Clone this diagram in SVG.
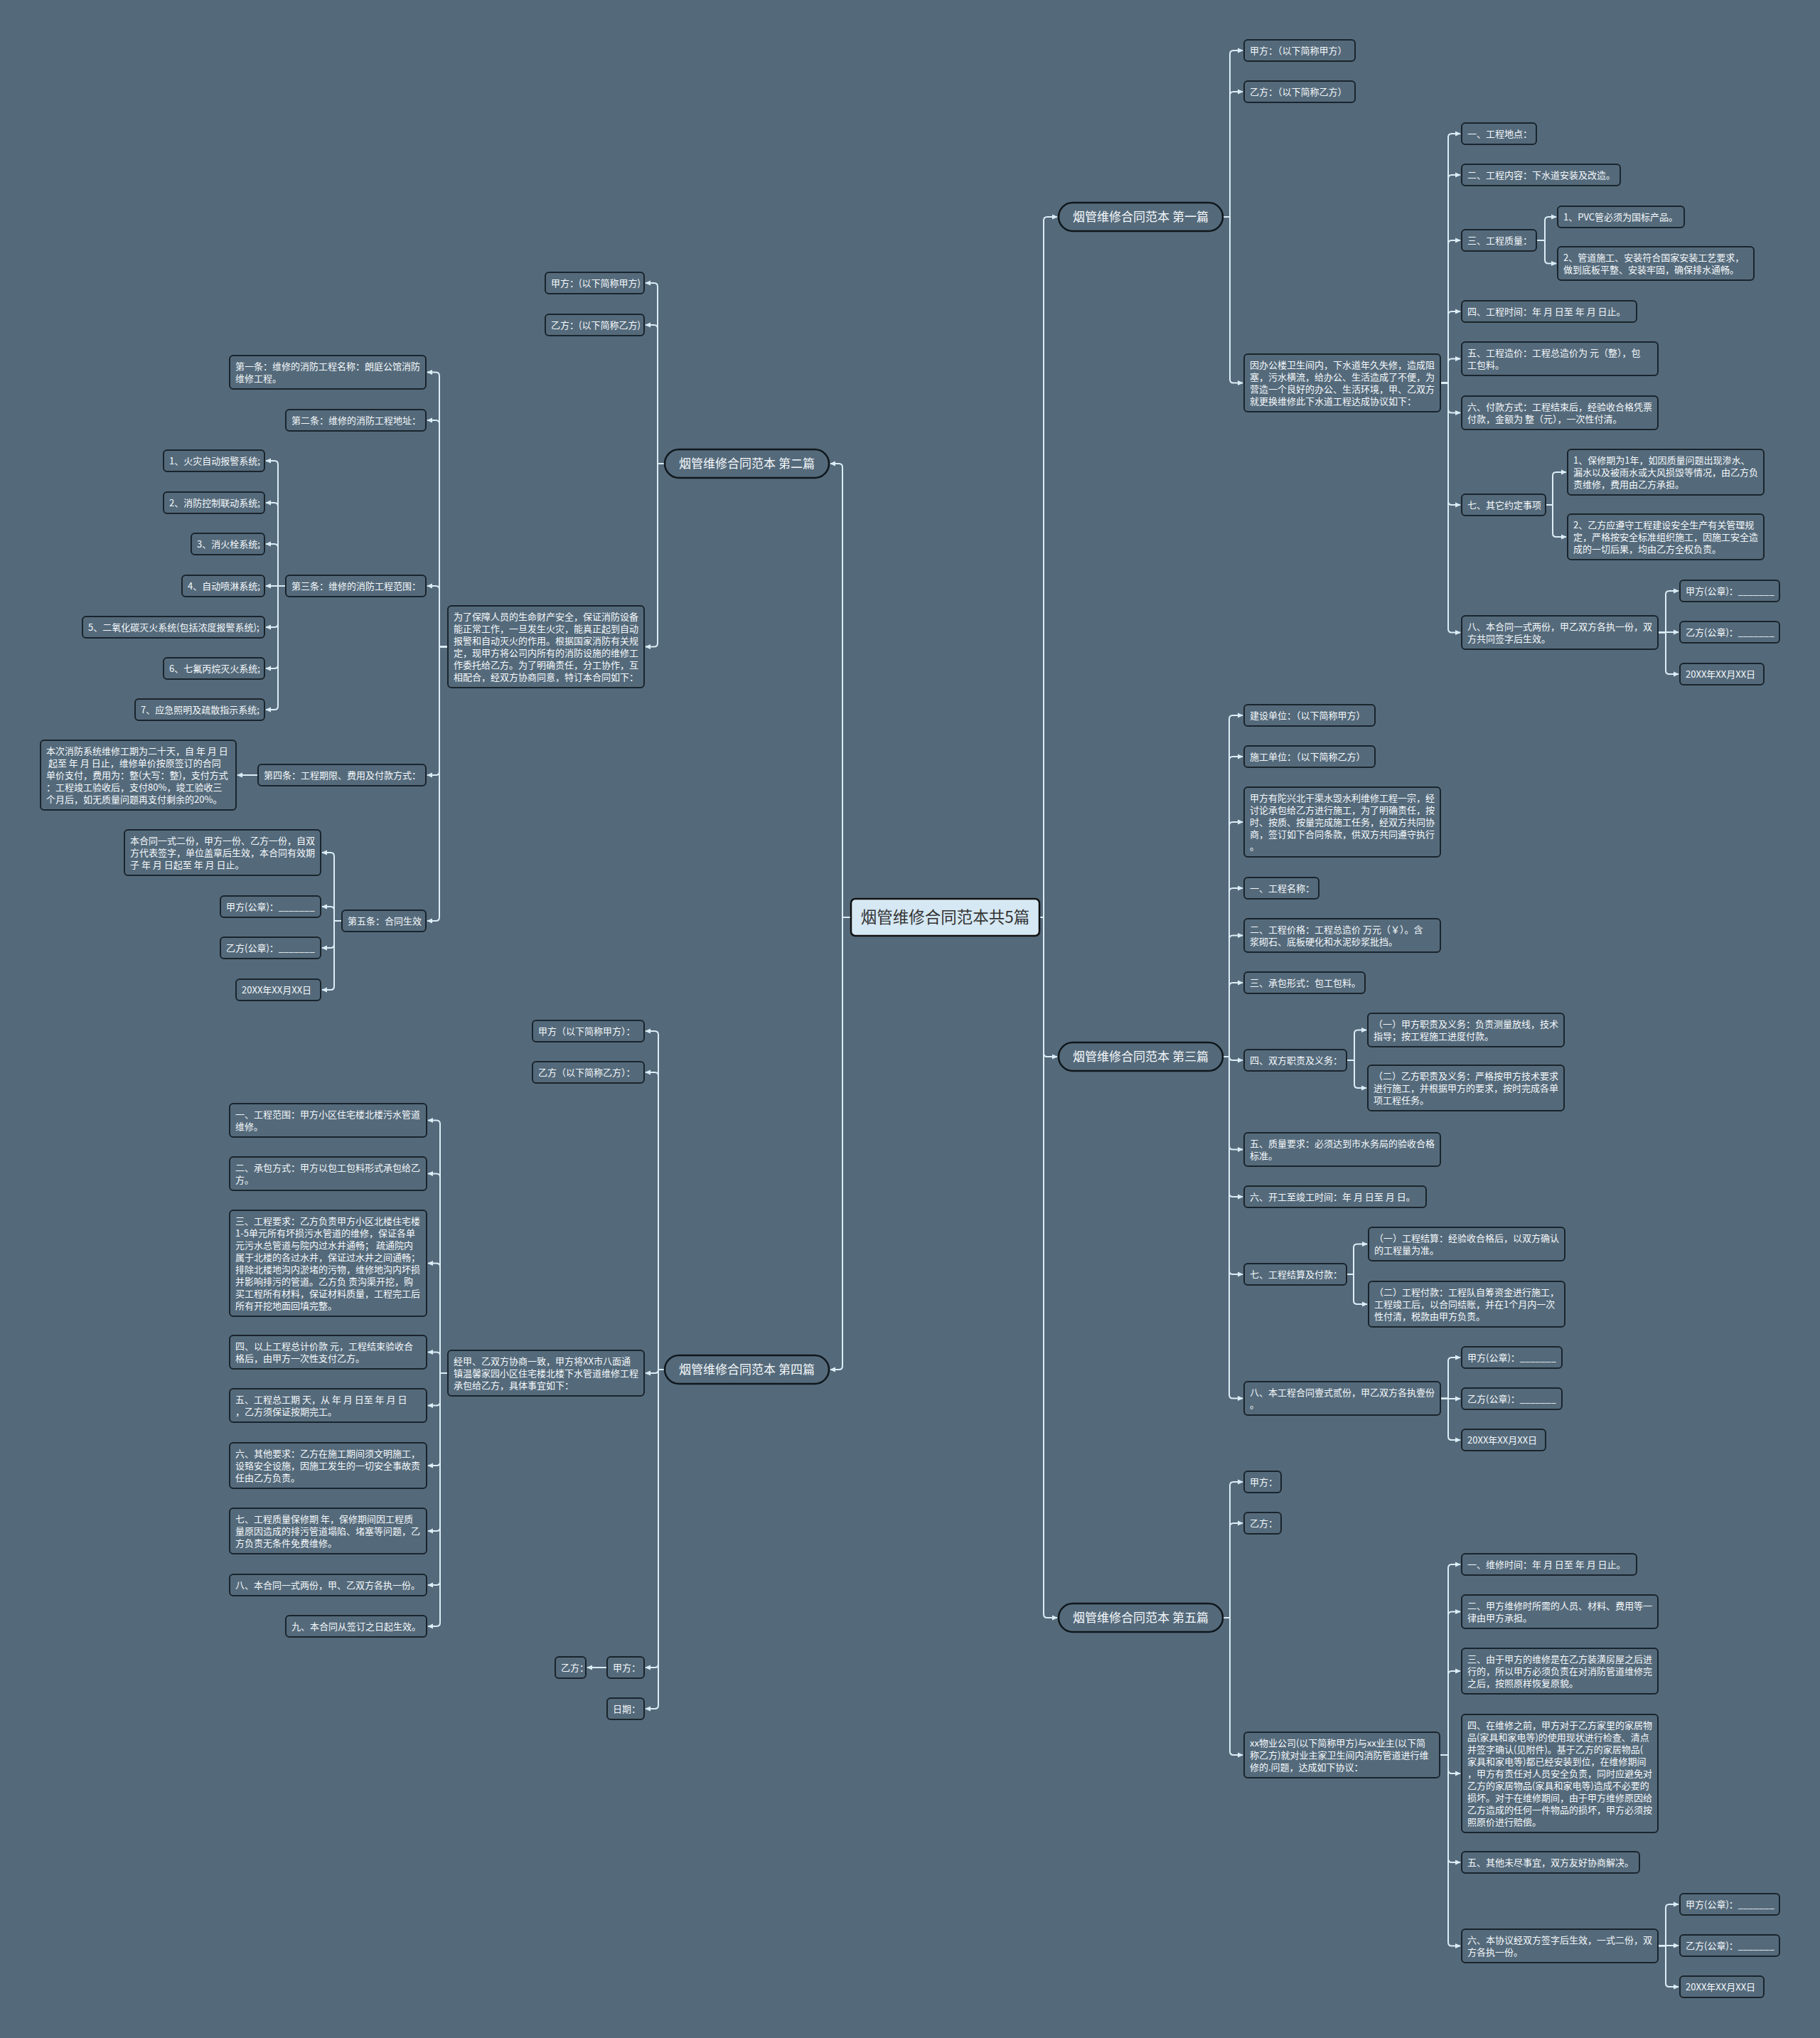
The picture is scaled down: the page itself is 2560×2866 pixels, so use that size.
<svg xmlns="http://www.w3.org/2000/svg" width="2560" height="2866" viewBox="0 0 2560 2866">
<style>
.bx{fill:#546a7b;stroke:#1a242c;stroke-width:2}
.pl{fill:#546a7b;stroke:#10171c;stroke-width:2.5}
.tx{font-family:"Noto Sans CJK SC","Noto Sans",sans-serif;font-size:13px;fill:#f5f8fa}
.bt{font-family:"Noto Sans CJK SC","Noto Sans",sans-serif;font-size:17px;fill:#f5f8fa;text-anchor:middle}
.ln{fill:none;stroke:#dcedf6;stroke-width:2;marker-end:url(#ar)}
</style>
<defs>
<marker id="ar" viewBox="0 0 10 10" refX="8" refY="5" markerWidth="9" markerHeight="9" markerUnits="userSpaceOnUse" orient="auto"><path d="M0,1 L9,5 L0,9 z" fill="#dcedf6"/></marker>
</defs>
<rect width="2560" height="2866" fill="#546a7b"/>
<g id="connectors">
<path class="ln" d="M1462 1290 H1468 V310 Q1468 305 1473 305 H1487"/>
<path class="ln" d="M1462 1290 H1468 V1481 Q1468 1486 1473 1486 H1487"/>
<path class="ln" d="M1462 1290 H1468 V2270 Q1468 2275 1473 2275 H1487"/>
<path class="ln" d="M1197 1290 H1185 V657 Q1185 652 1180 652 H1168"/>
<path class="ln" d="M1197 1290 H1185 V1921 Q1185 1926 1180 1926 H1168"/>
<path class="ln" d="M1720 305 H1730 V76 Q1730 71 1735 71 H1748"/>
<path class="ln" d="M1720 305 H1730 V134 Q1730 129 1735 129 H1748"/>
<path class="ln" d="M1720 305 H1730 V533.5 Q1730 538.5 1735 538.5 H1748"/>
<path class="ln" d="M2026 538.5 H2037 V193 Q2037 188 2042 188 H2054"/>
<path class="ln" d="M2026 538.5 H2037 V251 Q2037 246 2042 246 H2054"/>
<path class="ln" d="M2026 538.5 H2037 V343 Q2037 338 2042 338 H2054"/>
<path class="ln" d="M2026 538.5 H2037 V443 Q2037 438 2042 438 H2054"/>
<path class="ln" d="M2026 538.5 H2037 V509.5 Q2037 504.5 2042 504.5 H2054"/>
<path class="ln" d="M2026 538.5 H2037 V575.5 Q2037 580.5 2042 580.5 H2054"/>
<path class="ln" d="M2026 538.5 H2037 V705 Q2037 710 2042 710 H2054"/>
<path class="ln" d="M2026 538.5 H2037 V884.5 Q2037 889.5 2042 889.5 H2054"/>
<path class="ln" d="M2161 338 H2173 V310 Q2173 305 2178 305 H2189"/>
<path class="ln" d="M2161 338 H2173 V365.5 Q2173 370.5 2178 370.5 H2189"/>
<path class="ln" d="M2174 710 H2184 V669 Q2184 664 2189 664 H2203"/>
<path class="ln" d="M2174 710 H2184 V750 Q2184 755 2189 755 H2203"/>
<path class="ln" d="M2332 889.5 H2343 V836 Q2343 831 2348 831 H2361"/>
<path class="ln" d="M2332 889 H2361"/>
<path class="ln" d="M2332 889.5 H2343 V943 Q2343 948 2348 948 H2361"/>
<path class="ln" d="M1720 1486 H1729 V1011 Q1729 1006 1734 1006 H1748"/>
<path class="ln" d="M1720 1486 H1729 V1069 Q1729 1064 1734 1064 H1748"/>
<path class="ln" d="M1720 1486 H1729 V1161 Q1729 1156 1734 1156 H1748"/>
<path class="ln" d="M1720 1486 H1729 V1254 Q1729 1249 1734 1249 H1748"/>
<path class="ln" d="M1720 1486 H1729 V1320.5 Q1729 1315.5 1734 1315.5 H1748"/>
<path class="ln" d="M1720 1486 H1729 V1387 Q1729 1382 1734 1382 H1748"/>
<path class="ln" d="M1720 1486 H1729 V1486 Q1729 1491 1734 1491 H1748"/>
<path class="ln" d="M1720 1486 H1729 V1611.5 Q1729 1616.5 1734 1616.5 H1748"/>
<path class="ln" d="M1720 1486 H1729 V1678 Q1729 1683 1734 1683 H1748"/>
<path class="ln" d="M1720 1486 H1729 V1787 Q1729 1792 1734 1792 H1748"/>
<path class="ln" d="M1720 1486 H1729 V1961.5 Q1729 1966.5 1734 1966.5 H1748"/>
<path class="ln" d="M1894 1491 H1905 V1453.5 Q1905 1448.5 1910 1448.5 H1922"/>
<path class="ln" d="M1894 1491 H1905 V1525 Q1905 1530 1910 1530 H1922"/>
<path class="ln" d="M1894 1792 H1904 V1754.5 Q1904 1749.5 1909 1749.5 H1923"/>
<path class="ln" d="M1894 1792 H1904 V1829 Q1904 1834 1909 1834 H1923"/>
<path class="ln" d="M2026 1966.5 H2037 V1914 Q2037 1909 2042 1909 H2054"/>
<path class="ln" d="M2026 1967 H2054"/>
<path class="ln" d="M2026 1966.5 H2037 V2020 Q2037 2025 2042 2025 H2054"/>
<path class="ln" d="M1720 2275 H1730 V2089 Q1730 2084 1735 2084 H1748"/>
<path class="ln" d="M1720 2275 H1730 V2147 Q1730 2142 1735 2142 H1748"/>
<path class="ln" d="M1720 2275 H1730 V2463 Q1730 2468 1735 2468 H1748"/>
<path class="ln" d="M2025 2468 H2037 V2205 Q2037 2200 2042 2200 H2054"/>
<path class="ln" d="M2025 2468 H2037 V2271.5 Q2037 2266.5 2042 2266.5 H2054"/>
<path class="ln" d="M2025 2468 H2037 V2355 Q2037 2350 2042 2350 H2054"/>
<path class="ln" d="M2025 2468 H2037 V2489 Q2037 2494 2042 2494 H2054"/>
<path class="ln" d="M2025 2468 H2037 V2614 Q2037 2619 2042 2619 H2054"/>
<path class="ln" d="M2025 2468 H2037 V2731.5 Q2037 2736.5 2042 2736.5 H2054"/>
<path class="ln" d="M2332 2736.5 H2343 V2683 Q2343 2678 2348 2678 H2361"/>
<path class="ln" d="M2332 2736 H2361"/>
<path class="ln" d="M2332 2736.5 H2343 V2789 Q2343 2794 2348 2794 H2361"/>
<path class="ln" d="M935 652 H925 V403 Q925 398 920 398 H908"/>
<path class="ln" d="M935 652 H925 V462 Q925 457 920 457 H908"/>
<path class="ln" d="M935 652 H925 V904.5 Q925 909.5 920 909.5 H908"/>
<path class="ln" d="M630 909.5 H618 V528.5 Q618 523.5 613 523.5 H601"/>
<path class="ln" d="M630 909.5 H618 V596 Q618 591 613 591 H601"/>
<path class="ln" d="M630 909.5 H618 V829 Q618 824 613 824 H601"/>
<path class="ln" d="M630 909.5 H618 V1085 Q618 1090 613 1090 H601"/>
<path class="ln" d="M630 909.5 H618 V1290 Q618 1295 613 1295 H601"/>
<path class="ln" d="M402 824 H391 V653 Q391 648 386 648 H374"/>
<path class="ln" d="M402 824 H391 V712 Q391 707 386 707 H374"/>
<path class="ln" d="M402 824 H391 V770 Q391 765 386 765 H374"/>
<path class="ln" d="M402 824 H374"/>
<path class="ln" d="M402 824 H391 V877 Q391 882 386 882 H374"/>
<path class="ln" d="M402 824 H391 V935 Q391 940 386 940 H374"/>
<path class="ln" d="M402 824 H391 V993 Q391 998 386 998 H374"/>
<path class="ln" d="M363 1090 H334"/>
<path class="ln" d="M481 1295 H470 V1204 Q470 1199 465 1199 H453"/>
<path class="ln" d="M481 1295 H470 V1280 Q470 1275 465 1275 H453"/>
<path class="ln" d="M481 1295 H470 V1328 Q470 1333 465 1333 H453"/>
<path class="ln" d="M481 1295 H470 V1387 Q470 1392 465 1392 H453"/>
<path class="ln" d="M935 1926 H926 V1455 Q926 1450 921 1450 H908"/>
<path class="ln" d="M935 1926 H926 V1513 Q926 1508 921 1508 H908"/>
<path class="ln" d="M935 1926 H926 V1926 Q926 1931 921 1931 H908"/>
<path class="ln" d="M935 1926 H926 V2340 Q926 2345 921 2345 H908"/>
<path class="ln" d="M935 1926 H926 V2398 Q926 2403 921 2403 H908"/>
<path class="ln" d="M630 1931 H619 V1580.5 Q619 1575.5 614 1575.5 H602"/>
<path class="ln" d="M630 1931 H619 V1655.5 Q619 1650.5 614 1650.5 H602"/>
<path class="ln" d="M630 1931 H619 V1781.5 Q619 1776.5 614 1776.5 H602"/>
<path class="ln" d="M630 1931 H619 V1906.5 Q619 1901.5 614 1901.5 H602"/>
<path class="ln" d="M630 1931 H619 V1971.5 Q619 1976.5 614 1976.5 H602"/>
<path class="ln" d="M630 1931 H619 V2056 Q619 2061 614 2061 H602"/>
<path class="ln" d="M630 1931 H619 V2148 Q619 2153 614 2153 H602"/>
<path class="ln" d="M630 1931 H619 V2224 Q619 2229 614 2229 H602"/>
<path class="ln" d="M630 1931 H619 V2282 Q619 2287 614 2287 H602"/>
<path class="ln" d="M854 2345 H826"/>
</g>
<g id="center"><rect x="1197" y="1264" width="265" height="52" rx="6" fill="#d5e8f3" stroke="#111" stroke-width="2.5"/><text x="1329.5" y="1298" font-family="Noto Sans CJK SC, Noto Sans, sans-serif" font-size="22.5" fill="#333" text-anchor="middle">烟管维修合同范本共5篇</text></g>
<g id="r1"><rect class="pl" x="1489" y="285" width="231" height="40" rx="20"/><text class="bt" x="1604.5" y="311">烟管维修合同范本 第一篇</text></g>
<g id="r1a"><rect class="bx" x="1750" y="56" width="156" height="30" rx="5"/><text class="tx" x="1758" y="76">甲方：（以下简称甲方）</text></g>
<g id="r1b"><rect class="bx" x="1750" y="114" width="156" height="30" rx="5"/><text class="tx" x="1758" y="134">乙方：（以下简称乙方）</text></g>
<g id="r1c"><rect class="bx" x="1750" y="498" width="276" height="81" rx="5"/><text class="tx"><tspan x="1758" y="518">因办公楼卫生间内，下水道年久失修，造成阻</tspan><tspan x="1758" y="535">塞，污水横流，给办公、生活造成了不便，为</tspan><tspan x="1758" y="552">营造一个良好的办公、生活环境，甲、乙双方</tspan><tspan x="1758" y="569">就更换维修此下水道工程达成协议如下：</tspan></text></g>
<g id="r1c1"><rect class="bx" x="2056" y="173" width="105" height="30" rx="5"/><text class="tx" x="2064" y="193">一、工程地点：</text></g>
<g id="r1c2"><rect class="bx" x="2056" y="231" width="223" height="30" rx="5"/><text class="tx" x="2064" y="251">二、工程内容：下水道安装及改造。</text></g>
<g id="r1c3"><rect class="bx" x="2056" y="323" width="105" height="30" rx="5"/><text class="tx" x="2064" y="343">三、工程质量：</text></g>
<g id="r1c3a"><rect class="bx" x="2191" y="290" width="178" height="30" rx="5"/><text class="tx" x="2199" y="310">1、PVC管必须为国标产品。</text></g>
<g id="r1c3b"><rect class="bx" x="2191" y="347" width="276" height="47" rx="5"/><text class="tx"><tspan x="2199" y="367">2、管道施工、安装符合国家安装工艺要求，</tspan><tspan x="2199" y="384">做到底板平整、安装牢固，确保排水通畅。</tspan></text></g>
<g id="r1c4"><rect class="bx" x="2056" y="423" width="246" height="30" rx="5"/><text class="tx" x="2064" y="443">四、工程时间：年 月 日至 年 月 日止。</text></g>
<g id="r1c5"><rect class="bx" x="2056" y="481" width="276" height="47" rx="5"/><text class="tx"><tspan x="2064" y="501">五、工程造价：工程总造价为 元（整），包</tspan><tspan x="2064" y="518">工包料。</tspan></text></g>
<g id="r1c6"><rect class="bx" x="2056" y="557" width="276" height="47" rx="5"/><text class="tx"><tspan x="2064" y="577">六、付款方式：工程结束后，经验收合格凭票</tspan><tspan x="2064" y="594">付款，金额为 整（元），一次性付清。</tspan></text></g>
<g id="r1c7"><rect class="bx" x="2056" y="695" width="118" height="30" rx="5"/><text class="tx" x="2064" y="715">七、其它约定事项</text></g>
<g id="r1c7a"><rect class="bx" x="2205" y="632" width="276" height="64" rx="5"/><text class="tx"><tspan x="2213" y="652">1、保修期为1年，如因质量问题出现渗水、</tspan><tspan x="2213" y="669">漏水以及被雨水或大风损毁等情况，由乙方负</tspan><tspan x="2213" y="686">责维修，费用由乙方承担。</tspan></text></g>
<g id="r1c7b"><rect class="bx" x="2205" y="723" width="276" height="64" rx="5"/><text class="tx"><tspan x="2213" y="743">2、乙方应遵守工程建设安全生产有关管理规</tspan><tspan x="2213" y="760">定，严格按安全标准组织施工，因施工安全造</tspan><tspan x="2213" y="777">成的一切后果，均由乙方全权负责。</tspan></text></g>
<g id="r1c8"><rect class="bx" x="2056" y="866" width="276" height="47" rx="5"/><text class="tx"><tspan x="2064" y="886">八、本合同一式两份，甲乙双方各执一份，双</tspan><tspan x="2064" y="903">方共同签字后生效。</tspan></text></g>
<g id="r1c8a"><rect class="bx" x="2363" y="816" width="140" height="30" rx="5"/><text class="tx" x="2371" y="836">甲方(公章)：_______</text></g>
<g id="r1c8b"><rect class="bx" x="2363" y="874" width="140" height="30" rx="5"/><text class="tx" x="2371" y="894">乙方(公章)：_______</text></g>
<g id="r1c8c"><rect class="bx" x="2363" y="933" width="118" height="30" rx="5"/><text class="tx" x="2371" y="953">20XX年XX月XX日</text></g>
<g id="r3"><rect class="pl" x="1489" y="1466" width="231" height="40" rx="20"/><text class="bt" x="1604.5" y="1492">烟管维修合同范本 第三篇</text></g>
<g id="r3a"><rect class="bx" x="1750" y="991" width="184" height="30" rx="5"/><text class="tx" x="1758" y="1011">建设单位：（以下简称甲方）</text></g>
<g id="r3b"><rect class="bx" x="1750" y="1049" width="184" height="30" rx="5"/><text class="tx" x="1758" y="1069">施工单位：（以下简称乙方）</text></g>
<g id="r3c"><rect class="bx" x="1750" y="1107" width="276" height="98" rx="5"/><text class="tx"><tspan x="1758" y="1127">甲方有陀兴北干渠水毁水利维修工程一宗，经</tspan><tspan x="1758" y="1144">讨论承包给乙方进行施工，为了明确责任，按</tspan><tspan x="1758" y="1161">时、按质、按量完成施工任务，经双方共同协</tspan><tspan x="1758" y="1178">商，签订如下合同条款，供双方共同遵守执行</tspan><tspan x="1758" y="1195">。</tspan></text></g>
<g id="r3d"><rect class="bx" x="1750" y="1234" width="105" height="30" rx="5"/><text class="tx" x="1758" y="1254">一、工程名称：</text></g>
<g id="r3e"><rect class="bx" x="1750" y="1292" width="276" height="47" rx="5"/><text class="tx"><tspan x="1758" y="1312">二、工程价格：工程总造价 万元（￥）。含</tspan><tspan x="1758" y="1329">浆砌石、底板硬化和水泥砂浆批挡。</tspan></text></g>
<g id="r3f"><rect class="bx" x="1750" y="1367" width="170" height="30" rx="5"/><text class="tx" x="1758" y="1387">三、承包形式：包工包料。</text></g>
<g id="r3g"><rect class="bx" x="1750" y="1476" width="144" height="30" rx="5"/><text class="tx" x="1758" y="1496">四、双方职责及义务：</text></g>
<g id="r3g1"><rect class="bx" x="1924" y="1425" width="276" height="47" rx="5"/><text class="tx"><tspan x="1932" y="1445">（一）甲方职责及义务：负责测量放线，技术</tspan><tspan x="1932" y="1462">指导；按工程施工进度付款。</tspan></text></g>
<g id="r3g2"><rect class="bx" x="1924" y="1498" width="276" height="64" rx="5"/><text class="tx"><tspan x="1932" y="1518">（二）乙方职责及义务：严格按甲方技术要求</tspan><tspan x="1932" y="1535">进行施工，并根据甲方的要求，按时完成各单</tspan><tspan x="1932" y="1552">项工程任务。</tspan></text></g>
<g id="r3h"><rect class="bx" x="1750" y="1593" width="276" height="47" rx="5"/><text class="tx"><tspan x="1758" y="1613">五、质量要求：必须达到市水务局的验收合格</tspan><tspan x="1758" y="1630">标准。</tspan></text></g>
<g id="r3i"><rect class="bx" x="1750" y="1668" width="256" height="30" rx="5"/><text class="tx" x="1758" y="1688">六、开工至竣工时间：年 月 日至 月 日。</text></g>
<g id="r3j"><rect class="bx" x="1750" y="1777" width="144" height="30" rx="5"/><text class="tx" x="1758" y="1797">七、工程结算及付款：</text></g>
<g id="r3j1"><rect class="bx" x="1925" y="1726" width="276" height="47" rx="5"/><text class="tx"><tspan x="1933" y="1746">（一）工程结算：经验收合格后，以双方确认</tspan><tspan x="1933" y="1763">的工程量为准。</tspan></text></g>
<g id="r3j2"><rect class="bx" x="1925" y="1802" width="276" height="64" rx="5"/><text class="tx"><tspan x="1933" y="1822">（二）工程付款：工程队自筹资金进行施工，</tspan><tspan x="1933" y="1839">工程竣工后，以合同结账，并在1个月内一次</tspan><tspan x="1933" y="1856">性付清，税款由甲方负责。</tspan></text></g>
<g id="r3k"><rect class="bx" x="1750" y="1943" width="276" height="47" rx="5"/><text class="tx"><tspan x="1758" y="1963">八、本工程合同壹式贰份，甲乙双方各执壹份</tspan><tspan x="1758" y="1980">。</tspan></text></g>
<g id="r3k1"><rect class="bx" x="2056" y="1894" width="141" height="30" rx="5"/><text class="tx" x="2064" y="1914">甲方(公章)：_______</text></g>
<g id="r3k2"><rect class="bx" x="2056" y="1952" width="141" height="30" rx="5"/><text class="tx" x="2064" y="1972">乙方(公章)：_______</text></g>
<g id="r3k3"><rect class="bx" x="2056" y="2010" width="118" height="30" rx="5"/><text class="tx" x="2064" y="2030">20XX年XX月XX日</text></g>
<g id="r5"><rect class="pl" x="1489" y="2255" width="231" height="40" rx="20"/><text class="bt" x="1604.5" y="2281">烟管维修合同范本 第五篇</text></g>
<g id="r5a"><rect class="bx" x="1750" y="2069" width="52" height="30" rx="5"/><text class="tx" x="1758" y="2089">甲方：</text></g>
<g id="r5b"><rect class="bx" x="1750" y="2127" width="52" height="30" rx="5"/><text class="tx" x="1758" y="2147">乙方：</text></g>
<g id="r5c"><rect class="bx" x="1750" y="2436" width="275" height="64" rx="5"/><text class="tx"><tspan x="1758" y="2456">xx物业公司(以下简称甲方)与xx业主(以下简</tspan><tspan x="1758" y="2473">称乙方)就对业主家卫生间内消防管道进行维</tspan><tspan x="1758" y="2490">修的.问题，达成如下协议：</tspan></text></g>
<g id="r5c1"><rect class="bx" x="2056" y="2185" width="246" height="30" rx="5"/><text class="tx" x="2064" y="2205">一、维修时间：年 月 日至 年 月 日止。</text></g>
<g id="r5c2"><rect class="bx" x="2056" y="2243" width="276" height="47" rx="5"/><text class="tx"><tspan x="2064" y="2263">二、甲方维修时所需的人员、材料、费用等一</tspan><tspan x="2064" y="2280">律由甲方承担。</tspan></text></g>
<g id="r5c3"><rect class="bx" x="2056" y="2318" width="276" height="64" rx="5"/><text class="tx"><tspan x="2064" y="2338">三、由于甲方的维修是在乙方装潢房屋之后进</tspan><tspan x="2064" y="2355">行的，所以甲方必须负责在对消防管道维修完</tspan><tspan x="2064" y="2372">之后，按照原样恢复原貌。</tspan></text></g>
<g id="r5c4"><rect class="bx" x="2056" y="2411" width="276" height="166" rx="5"/><text class="tx"><tspan x="2064" y="2431">四、在维修之前，甲方对于乙方家里的家居物</tspan><tspan x="2064" y="2448">品(家具和家电等)的使用现状进行检查、清点</tspan><tspan x="2064" y="2465">并签字确认(见附件)。基于乙方的家居物品(</tspan><tspan x="2064" y="2482">家具和家电等)都已经安装到位，在维修期间</tspan><tspan x="2064" y="2499">，甲方有责任对人员安全负责，同时应避免对</tspan><tspan x="2064" y="2516">乙方的家居物品(家具和家电等)造成不必要的</tspan><tspan x="2064" y="2533">损坏。对于在维修期间，由于甲方维修原因给</tspan><tspan x="2064" y="2550">乙方造成的任何一件物品的损坏，甲方必须按</tspan><tspan x="2064" y="2567">照原价进行赔偿。</tspan></text></g>
<g id="r5c5"><rect class="bx" x="2056" y="2604" width="250" height="30" rx="5"/><text class="tx" x="2064" y="2624">五、其他未尽事宜，双方友好协商解决。</text></g>
<g id="r5c6"><rect class="bx" x="2056" y="2713" width="276" height="47" rx="5"/><text class="tx"><tspan x="2064" y="2733">六、本协议经双方签字后生效，一式二份，双</tspan><tspan x="2064" y="2750">方各执一份。</tspan></text></g>
<g id="r5c6a"><rect class="bx" x="2363" y="2663" width="140" height="30" rx="5"/><text class="tx" x="2371" y="2683">甲方(公章)：_______</text></g>
<g id="r5c6b"><rect class="bx" x="2363" y="2721" width="140" height="30" rx="5"/><text class="tx" x="2371" y="2741">乙方(公章)：_______</text></g>
<g id="r5c6c"><rect class="bx" x="2363" y="2779" width="118" height="30" rx="5"/><text class="tx" x="2371" y="2799">20XX年XX月XX日</text></g>
<g id="l2"><rect class="pl" x="935" y="632" width="231" height="40" rx="20"/><text class="bt" x="1050.5" y="658">烟管维修合同范本 第二篇</text></g>
<g id="l2a"><rect class="bx" x="767" y="383" width="139" height="30" rx="5"/><text class="tx" x="775" y="403">甲方：(以下简称甲方)</text></g>
<g id="l2b"><rect class="bx" x="767" y="442" width="139" height="30" rx="5"/><text class="tx" x="775" y="462">乙方：(以下简称乙方)</text></g>
<g id="l2c"><rect class="bx" x="630" y="852" width="276" height="115" rx="5"/><text class="tx"><tspan x="638" y="872">为了保障人员的生命财产安全，保证消防设备</tspan><tspan x="638" y="889">能正常工作，一旦发生火灾，能真正起到自动</tspan><tspan x="638" y="906">报警和自动灭火的作用。根据国家消防有关规</tspan><tspan x="638" y="923">定，现甲方将公司内所有的消防设施的维修工</tspan><tspan x="638" y="940">作委托给乙方。为了明确责任，分工协作，互</tspan><tspan x="638" y="957">相配合，经双方协商同意，特订本合同如下：</tspan></text></g>
<g id="l2c1"><rect class="bx" x="323" y="500" width="276" height="47" rx="5"/><text class="tx"><tspan x="331" y="520">第一条：维修的消防工程名称：朗庭公馆消防</tspan><tspan x="331" y="537">维修工程。</tspan></text></g>
<g id="l2c2"><rect class="bx" x="402" y="576" width="197" height="30" rx="5"/><text class="tx" x="410" y="596">第二条：维修的消防工程地址：</text></g>
<g id="l2c3"><rect class="bx" x="402" y="809" width="197" height="30" rx="5"/><text class="tx" x="410" y="829">第三条：维修的消防工程范围：</text></g>
<g id="l2c3a"><rect class="bx" x="230" y="633" width="142" height="30" rx="5"/><text class="tx" x="238" y="653">1、火灾自动报警系统;</text></g>
<g id="l2c3b"><rect class="bx" x="230" y="692" width="142" height="30" rx="5"/><text class="tx" x="238" y="712">2、消防控制联动系统;</text></g>
<g id="l2c3c"><rect class="bx" x="269" y="750" width="103" height="30" rx="5"/><text class="tx" x="277" y="770">3、消火栓系统;</text></g>
<g id="l2c3d"><rect class="bx" x="256" y="809" width="116" height="30" rx="5"/><text class="tx" x="264" y="829">4、自动喷淋系统;</text></g>
<g id="l2c3e"><rect class="bx" x="116" y="867" width="256" height="30" rx="5"/><text class="tx" x="124" y="887">5、二氧化碳灭火系统(包括浓度报警系统);</text></g>
<g id="l2c3f"><rect class="bx" x="230" y="925" width="142" height="30" rx="5"/><text class="tx" x="238" y="945">6、七氟丙烷灭火系统;</text></g>
<g id="l2c3g"><rect class="bx" x="190" y="983" width="182" height="30" rx="5"/><text class="tx" x="198" y="1003">7、应急照明及疏散指示系统;</text></g>
<g id="l2c4"><rect class="bx" x="363" y="1075" width="236" height="30" rx="5"/><text class="tx" x="371" y="1095">第四条：工程期限、费用及付款方式：</text></g>
<g id="l2c4a"><rect class="bx" x="57" y="1041" width="275" height="98" rx="5"/><text class="tx"><tspan x="65" y="1061">本次消防系统维修工期为二十天，自 年 月 日</tspan><tspan x="65" y="1078">&#160;起至 年 月 日止，维修单价按原签订的合同</tspan><tspan x="65" y="1095">单价支付，费用为：整(大写：整)，支付方式</tspan><tspan x="65" y="1112">：工程竣工验收后，支付80%，竣工验收三</tspan><tspan x="65" y="1129">个月后，如无质量问题再支付剩余的20%。</tspan></text></g>
<g id="l2c5"><rect class="bx" x="481" y="1280" width="118" height="30" rx="5"/><text class="tx" x="489" y="1300">第五条：合同生效</text></g>
<g id="l2c5a"><rect class="bx" x="175" y="1167" width="276" height="64" rx="5"/><text class="tx"><tspan x="183" y="1187">本合同一式二份，甲方一份、乙方一份，自双</tspan><tspan x="183" y="1204">方代表签字，单位盖章后生效，本合同有效期</tspan><tspan x="183" y="1221">子 年 月 日起至 年 月 日止。</tspan></text></g>
<g id="l2c5b"><rect class="bx" x="310" y="1260" width="141" height="30" rx="5"/><text class="tx" x="318" y="1280">甲方(公章)：_______</text></g>
<g id="l2c5c"><rect class="bx" x="310" y="1318" width="141" height="30" rx="5"/><text class="tx" x="318" y="1338">乙方(公章)：_______</text></g>
<g id="l2c5d"><rect class="bx" x="332" y="1377" width="119" height="30" rx="5"/><text class="tx" x="340" y="1397">20XX年XX月XX日</text></g>
<g id="l4"><rect class="pl" x="935" y="1906" width="231" height="40" rx="20"/><text class="bt" x="1050.5" y="1932">烟管维修合同范本 第四篇</text></g>
<g id="l4a"><rect class="bx" x="749" y="1435" width="157" height="30" rx="5"/><text class="tx" x="757" y="1455">甲方（以下简称甲方）：</text></g>
<g id="l4b"><rect class="bx" x="749" y="1493" width="157" height="30" rx="5"/><text class="tx" x="757" y="1513">乙方（以下简称乙方）：</text></g>
<g id="l4c"><rect class="bx" x="630" y="1899" width="276" height="64" rx="5"/><text class="tx"><tspan x="638" y="1919">经甲、乙双方协商一致，甲方将XX市八面通</tspan><tspan x="638" y="1936">镇温馨家园小区住宅楼北楼下水管道维修工程</tspan><tspan x="638" y="1953">承包给乙方，具体事宜如下：</tspan></text></g>
<g id="l4c1"><rect class="bx" x="323" y="1552" width="277" height="47" rx="5"/><text class="tx"><tspan x="331" y="1572">一、工程范围：甲方小区住宅楼北楼污水管道</tspan><tspan x="331" y="1589">维修。</tspan></text></g>
<g id="l4c2"><rect class="bx" x="323" y="1627" width="277" height="47" rx="5"/><text class="tx"><tspan x="331" y="1647">二、承包方式：甲方以包工包料形式承包给乙</tspan><tspan x="331" y="1664">方。</tspan></text></g>
<g id="l4c3"><rect class="bx" x="323" y="1702" width="277" height="149" rx="5"/><text class="tx"><tspan x="331" y="1722">三、工程要求：乙方负责甲方小区北楼住宅楼</tspan><tspan x="331" y="1739">1-5单元所有坏损污水管道的维修，保证各单</tspan><tspan x="331" y="1756">元污水总管道与院内过水井通畅； 疏通院内</tspan><tspan x="331" y="1773">属于北楼的各过水井，保证过水井之间通畅；</tspan><tspan x="331" y="1790">排除北楼地沟内淤堵的污物，维修地沟内坏损</tspan><tspan x="331" y="1807">并影响排污的管道。乙方负 责沟渠开挖，购</tspan><tspan x="331" y="1824">买工程所有材料，保证材料质量，工程完工后</tspan><tspan x="331" y="1841">所有开挖地面回填完整。</tspan></text></g>
<g id="l4c4"><rect class="bx" x="323" y="1878" width="277" height="47" rx="5"/><text class="tx"><tspan x="331" y="1898">四、以上工程总计价款 元，工程结束验收合</tspan><tspan x="331" y="1915">格后，由甲方一次性支付乙方。</tspan></text></g>
<g id="l4c5"><rect class="bx" x="323" y="1953" width="277" height="47" rx="5"/><text class="tx"><tspan x="331" y="1973">五、工程总工期 天，从 年 月 日至 年 月 日</tspan><tspan x="331" y="1990">，乙方须保证按期完工。</tspan></text></g>
<g id="l4c6"><rect class="bx" x="323" y="2029" width="277" height="64" rx="5"/><text class="tx"><tspan x="331" y="2049">六、其他要求：乙方在施工期间须文明施工，</tspan><tspan x="331" y="2066">设臵安全设施，因施工发生的一切安全事故责</tspan><tspan x="331" y="2083">任由乙方负责。</tspan></text></g>
<g id="l4c7"><rect class="bx" x="323" y="2121" width="277" height="64" rx="5"/><text class="tx"><tspan x="331" y="2141">七、工程质量保修期 年，保修期间因工程质</tspan><tspan x="331" y="2158">量原因造成的排污管道塌陷、堵塞等问题，乙</tspan><tspan x="331" y="2175">方负责无条件免费维修。</tspan></text></g>
<g id="l4c8"><rect class="bx" x="323" y="2214" width="277" height="30" rx="5"/><text class="tx" x="331" y="2234">八、本合同一式两份，甲、乙双方各执一份。</text></g>
<g id="l4c9"><rect class="bx" x="402" y="2272" width="198" height="30" rx="5"/><text class="tx" x="410" y="2292">九、本合同从签订之日起生效。</text></g>
<g id="l4d"><rect class="bx" x="854" y="2330" width="52" height="30" rx="5"/><text class="tx" x="862" y="2350">甲方：</text></g>
<g id="l4d1"><rect class="bx" x="781" y="2330" width="43" height="30" rx="5"/><text class="tx" x="789" y="2350">乙方：</text></g>
<g id="l4e"><rect class="bx" x="854" y="2388" width="52" height="30" rx="5"/><text class="tx" x="862" y="2408">日期：</text></g>
</svg>
